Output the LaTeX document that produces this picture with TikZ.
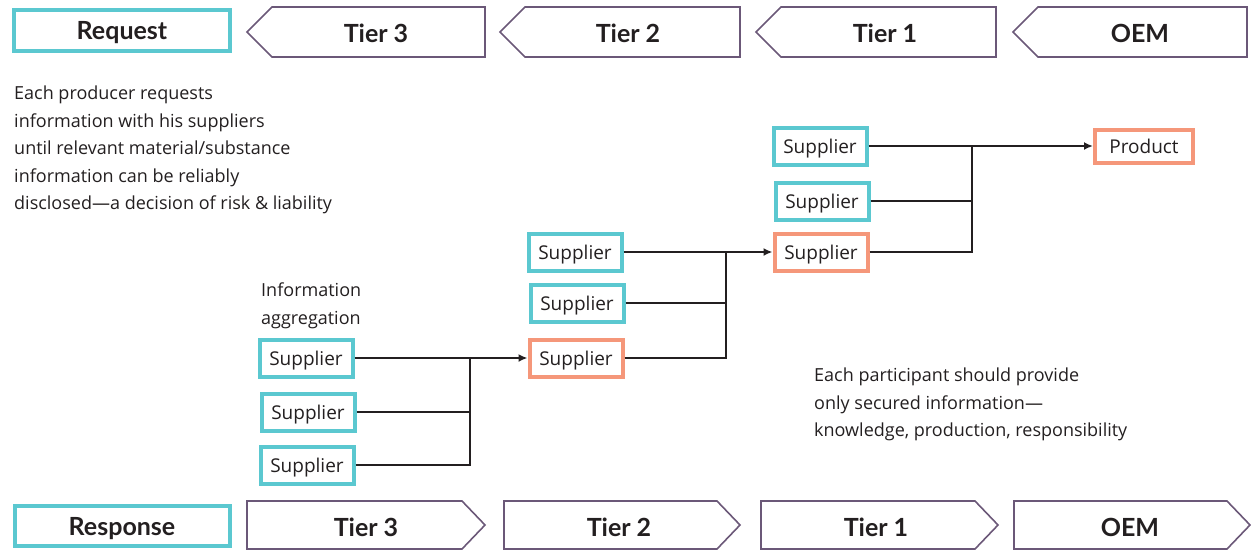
\documentclass[tikz,border=0pt]{standalone}
\usepackage{fontspec}
\setmainfont{Open Sans}
\newfontfamily\hdr{Lato}
\usetikzlibrary{arrows.meta}
\definecolor{cy}{HTML}{5BC8D0}
\definecolor{org}{HTML}{F5977A}
\definecolor{pur}{HTML}{6B5878}
\definecolor{txt}{HTML}{231F20}
\begin{document}
\begin{tikzpicture}[x=1pt,y=-1pt,
  box/.style={line width=4pt,inner sep=0pt,text=txt,text height=19.5pt,text depth=4.5pt,font=\fontsize{19}{20}\selectfont},
  sup/.style={box,draw=cy,minimum width=93pt,minimum height=37pt},
  osup/.style={box,draw=org,minimum width=93pt,minimum height=37pt},
  head/.style={box,draw=cy,text height=24pt,text depth=5pt,font=\hdr\fontsize{25}{28}\selectfont\bfseries},
  tier/.style={draw=pur,line width=1.6pt,line join=miter},
  tlab/.style={inner sep=0pt,text=txt,font=\hdr\fontsize{25}{28}\selectfont\bfseries},
  body/.style={inner sep=0pt,text=txt,align=left,font=\fontsize{18}{27.5}\selectfont},
  conn/.style={draw=txt,line width=2pt},
  arr/.style={conn,-{Latex[length=9pt,width=8pt]}}
]
\useasboundingbox (0,0) rectangle (1251,550);

% header row
\node[head,minimum width=216pt,minimum height=41pt] (req) at (122,30) {Request};
\draw[tier] (247,32) -- (272,7) -- (485,7) -- (485,57) -- (272,57) -- cycle;
\draw[tier] (500,32) -- (525,7) -- (740,7) -- (740,57) -- (525,57) -- cycle;
\draw[tier] (756,32) -- (781,7) -- (996,7) -- (996,57) -- (781,57) -- cycle;
\draw[tier] (1013,32) -- (1038,7) -- (1247,7) -- (1247,57) -- (1038,57) -- cycle;
\node[tlab] (rt3) at (376,33) {Tier 3};
\node[tlab] (rt2) at (628,33) {Tier 2};
\node[tlab] (rt1) at (885,33) {Tier 1};
\node[tlab] (roem) at (1140,33) {OEM};

% footer row
\node[head,minimum width=215pt,minimum height=40pt] (resp) at (122,526) {Response};
\draw[tier] (247,501) -- (462,501) -- (485,525) -- (462,549) -- (247,549) -- cycle;
\draw[tier] (504,501) -- (717,501) -- (740,525) -- (717,549) -- (504,549) -- cycle;
\draw[tier] (761,501) -- (975,501) -- (998,525) -- (975,549) -- (761,549) -- cycle;
\draw[tier] (1014,501) -- (1227,501) -- (1250,525) -- (1227,549) -- (1014,549) -- cycle;
\node[tlab] (st3) at (366,527) {Tier 3};
\node[tlab] (st2) at (619,527) {Tier 2};
\node[tlab] (st1) at (876,527) {Tier 1};
\node[tlab] (soem) at (1130,527) {OEM};

% texts
\node[body,anchor=north west] (t1) at (14,86) {Each producer requests\\information with his suppliers\\until relevant material/substance\\information can be reliably\\disclosed—a decision of risk \& liability};
\node[body,anchor=north west] (t2) at (261,283) {Information\\aggregation};
\node[body,anchor=north west] (t3) at (814,368) {Each participant should provide\\only secured information—\\knowledge, production, responsibility};

% tier 3 suppliers
\node[sup] (a1) at (306,358) {Supplier};
\node[sup] (a2) at (308,412) {Supplier};
\node[sup] (a3) at (307,465) {Supplier};
% tier 2 suppliers
\node[sup] (b1) at (575,252) {Supplier};
\node[sup] (b2) at (577,303) {Supplier};
\node[osup] (b3) at (576,358) {Supplier};
% tier 1 suppliers
\node[sup] (c1) at (820,146) {Supplier};
\node[sup] (c2) at (822,201) {Supplier};
\node[osup] (c3) at (821,252) {Supplier};
% product
\node[box,draw=org,minimum width=98pt,minimum height=33pt] (p) at (1144,146) {Product};

\coordinate (ja) at (470,358);
\coordinate (jb) at (726,252);
\coordinate (jc) at (972,146);

\draw[arr] (a1.east) -- (b3.west);
\draw[conn] (a2.east) -- (a2 -| ja);
\draw[conn] (a3.east) -- (a3 -| ja) -- (ja);

\draw[arr] (b1.east) -- (c3.west);
\draw[conn] (b2.east) -- (b2 -| jb);
\draw[conn] (b3.east) -- (b3 -| jb) -- (jb);

\draw[arr] (c1.east) -- (p.west);
\draw[conn] (c2.east) -- (c2 -| jc);
\draw[conn] (c3.east) -- (c3 -| jc) -- (jc);
\end{tikzpicture}
\end{document}
